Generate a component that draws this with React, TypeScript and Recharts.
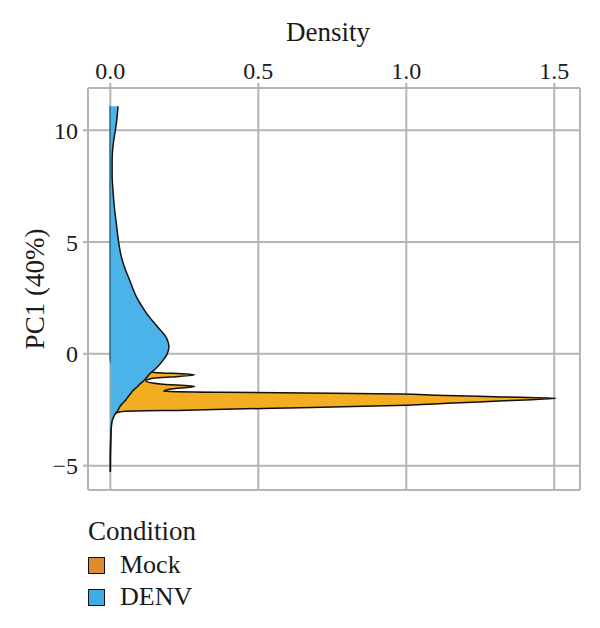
import React from 'react';
import { AreaChart, Area, XAxis, YAxis, CartesianGrid, Legend, Label } from 'recharts';

// PC1 scores at which both density curves are sampled (dense around the Mock spike)
const pcGrid = [
  -5.27, -4.5, -4.0, -3.5, -3.2, -3.0, -2.8, -2.65, -2.57, -2.52, -2.47, -2.42, -2.36, -2.3,
  -2.2, -2.1, -1.99, -1.92, -1.85, -1.8, -1.76, -1.72, -1.68, -1.58, -1.46, -1.35, -1.2, -1.1,
  -1.04, -0.94, -0.83, -0.7, -0.5, -0.25, 0, 0.33, 0.7, 1.2, 1.8, 2.5, 3.3, 3.8, 4.35, 5.0,
  5.85, 6.5, 7.3, 8.0, 8.5, 9.0, 9.5, 10.0, 10.5, 11.07,
];

const mockDensity = [
  0, 0, 0.001, 0.002, 0.003, 0.005, 0.01, 0.02, 0.05, 0.26, 0.42, 0.6, 0.82, 1.0,
  1.16, 1.33, 1.505, 1.3, 1.1, 0.98, 0.75, 0.38, 0.18, 0.2, 0.285, 0.17, 0.12, 0.14,
  0.2, 0.285, 0.15, 0.04, 0.005, 0, 0, 0, 0, 0, 0, 0, 0, 0, 0, 0,
  0, 0, 0, 0, 0, 0, 0, 0, 0, 0,
];

const denvDensity = [
  0, 0.0005, 0.001, 0.002, 0.004, 0.006, 0.012, 0.018, 0.024, 0.026, 0.028, 0.03, 0.032, 0.036,
  0.042, 0.05, 0.056, 0.06, 0.064, 0.067, 0.07, 0.072, 0.074, 0.082, 0.092, 0.1, 0.113, 0.12,
  0.124, 0.13, 0.138, 0.15, 0.165, 0.18, 0.192, 0.198, 0.19, 0.16, 0.123, 0.09, 0.065, 0.05, 0.037, 0.028,
  0.02, 0.014, 0.009, 0.006, 0.006, 0.007, 0.011, 0.017, 0.022, 0.026,
];

const densityTicks = [0, 0.5, 1.0, 1.5];
const pcTicks = [-5, 0, 5, 10];
const conditionNames = ['Mock', 'DENV'];

const FONT = '"Liberation Serif", "DejaVu Serif", serif';
const TEXT = '#1a1a1a';
const GRID = '#b5b5b5';
const AREA_FILL: Record<string, string> = { Mock: '#F3AD22', DENV: '#4BB3E8' };
const KEY_FILL: Record<string, string> = { Mock: '#DF8A2E', DENV: '#3DAEE5' };

const rows = pcGrid.map((pc, i) => ({ pc, Mock: mockDensity[i], DENV: denvDensity[i] }));

const fmtPc = (v: number) => (v < 0 ? `\u2212${Math.abs(v)}` : `${v}`);

const ConditionLegend = () => (
  <div style={{ fontFamily: FONT, color: TEXT }}>
    <div style={{ fontSize: 27, lineHeight: '32px', marginBottom: 2 }}>Condition</div>
    {conditionNames.map((name) => (
      <div key={name} style={{ display: 'flex', alignItems: 'center', height: 32 }}>
        <span
          style={{
            width: 15,
            height: 15,
            background: KEY_FILL[name],
            border: '1.5px solid #111',
            marginRight: 15,
          }}
        />
        <span style={{ fontSize: 26 }}>{name}</span>
      </div>
    ))}
  </div>
);

const PcTitle = ({ viewBox }: any) => {
  const cy = viewBox.y + viewBox.height / 2;
  return (
    <text
      x={35}
      y={cy}
      transform={`rotate(-90, 35, ${cy})`}
      textAnchor="middle"
      dominantBaseline="central"
      fontSize={27}
      fontFamily={FONT}
      fill={TEXT}
    >
      PC1 (40%)
    </text>
  );
};

const DensityTitle = () => (
  <text x={328} y={41} textAnchor="middle" fontSize={27} fontFamily={FONT} fill={TEXT}>
    Density
  </text>
);

export default function App() {
  return (
    <div style={{ position: 'absolute', left: 0, top: 0, width: 600, height: 628, background: '#fff' }}>
      <AreaChart
        width={600}
        height={628}
        data={rows}
        layout="vertical"
        margin={{ top: 0, right: 20, bottom: 38, left: 0 }}
      >
        <CartesianGrid stroke={GRID} strokeWidth={2} />
        <XAxis
          type="number"
          orientation="top"
          height={88}
          domain={[-0.0755, 1.587]}
          ticks={densityTicks}
          interval={0}
          allowDataOverflow
          tickFormatter={(v: number) => v.toFixed(1)}
          tick={{ fill: TEXT, fontSize: 24, fontFamily: FONT }}
          tickLine={{ stroke: GRID, strokeWidth: 2 }}
          tickSize={5}
          tickMargin={4}
          axisLine={false}
        >
          <Label content={DensityTitle} />
        </XAxis>
        <YAxis
          type="number"
          dataKey="pc"
          reversed
          width={88}
          domain={[-6.09, 11.89]}
          ticks={pcTicks}
          interval={0}
          allowDataOverflow
          tickFormatter={fmtPc}
          tick={{ fill: TEXT, fontSize: 24, fontFamily: FONT }}
          tickLine={{ stroke: GRID, strokeWidth: 2 }}
          tickSize={5}
          tickMargin={5}
          axisLine={false}
        >
          <Label content={PcTitle} />
        </YAxis>
        <Area
          type="monotone"
          dataKey="Mock"
          fill={AREA_FILL.Mock}
          fillOpacity={1}
          stroke="#111"
          strokeWidth={1.5}
          dot={false}
          activeDot={false}
          isAnimationActive={false}
        />
        <Area
          type="monotone"
          dataKey="DENV"
          fill={AREA_FILL.DENV}
          fillOpacity={1}
          stroke="#111"
          strokeWidth={1.5}
          dot={false}
          activeDot={false}
          isAnimationActive={false}
        />
        <Legend
          verticalAlign="bottom"
          align="left"
          height={100}
          content={ConditionLegend}
          wrapperStyle={{ left: 88, top: 515, width: 200 }}
        />
      </AreaChart>
    </div>
  );
}
